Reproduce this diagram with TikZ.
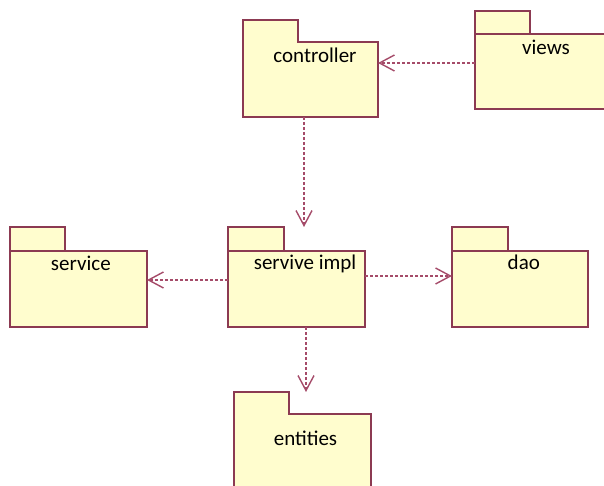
\documentclass[tikz,border=0pt]{standalone}
\usepackage{fontspec}
\setmainfont{Carlito}
\usetikzlibrary{positioning,arrows.meta}
\definecolor{pkgfill}{RGB}{255,253,206}
\definecolor{pkgline}{RGB}{140,58,82}
\definecolor{depline}{RGB}{165,75,105}

\begin{document}
\begin{tikzpicture}[x=1pt, y=1pt,
		pkg/.style={draw=pkgline, fill=pkgfill, line width=1.5pt, inner sep=0pt, outer sep=0pt},
		pkgopen/.style={inner sep=0pt, outer sep=0pt},
		pkgname/.style={anchor=base, inner sep=0pt, font=\fontsize{21}{25}\selectfont},
		dep/.style={draw=depline, line width=1.4pt, dash pattern=on 3pt off 2pt, -{Straight Barb[length=15pt, width=16pt]}}]
			\clip (0, 0) rectangle (604, 486);

			% packages with tab and body as one outline
			\node[pkgopen, minimum width=135pt, minimum height=75pt] (controller) at (310.5, 406.5) {};
			\node[pkgopen, minimum width=55pt, minimum height=22pt, anchor=south west] (ctrltab) at (controller.north west) {};
			\draw[pkg] (ctrltab.south west) -- (ctrltab.north west) -- (ctrltab.north east) -- (ctrltab.south east) -- (controller.north east) -- (controller.south east) -- (controller.south west) -- cycle;

			\node[pkgopen, minimum width=137pt, minimum height=81pt] (entities) at (302.5, 31.5) {};
			\node[pkgopen, minimum width=55pt, minimum height=22pt, anchor=south west] (entitiestab) at (entities.north west) {};
			\draw[pkg] (entitiestab.south west) -- (entitiestab.north west) -- (entitiestab.north east) -- (entitiestab.south east) -- (entities.north east) -- (entities.south east) -- (entities.south west) -- cycle;

			% packages with a separate tab
			\node[pkg, minimum width=55pt, minimum height=23pt, anchor=south west] (viewstab) at (475, 452) {};
			\node[pkg, minimum width=142pt, minimum height=75pt, anchor=north west] (views) at (viewstab.south west) {};

			\node[pkg, minimum width=55pt, minimum height=24pt, anchor=south west] (servicetab) at (10, 235) {};
			\node[pkg, minimum width=137pt, minimum height=76pt, anchor=north west] (service) at (servicetab.south west) {};

			\node[pkg, minimum width=56pt, minimum height=24pt, anchor=south west] (impltab) at (228, 235) {};
			\node[pkg, minimum width=137pt, minimum height=76pt, anchor=north west] (impl) at (impltab.south west) {};

			\node[pkg, minimum width=56pt, minimum height=24pt, anchor=south west] (daotab) at (452, 235) {};
			\node[pkg, minimum width=136pt, minimum height=76pt, anchor=north west] (dao) at (daotab.south west) {};

			\node[pkgname] (ctrlname) at ([shift={(4.5, -20.3)}]controller.north) {controller};
			\node[pkgname] (viewsname) at ([shift={(0, -20.3)}]views.north) {views};
			\node[pkgname] (servicename) at ([shift={(2.3, -19.7)}]service.north) {service};
			\node[pkgname] (implname) at ([shift={(8.5, -19)}]impl.north) {servive impl};
			\node[pkgname] (daoname) at ([shift={(3.8, -18.3)}]dao.north) {dao};
			\node[pkgname] (entitiesname) at ([shift={(3, -31.7)}]entities.north) {entities};

			% dependencies
			\coordinate (vw) at ([yshift=8.5pt]views.west);
			\draw[dep] (vw) -- (vw -| controller.east);
			\coordinate (cs) at ([xshift=-6.5pt]controller.south);
			\draw[dep] (cs) -- (cs |- impltab.north);
			\coordinate (iw) at ([yshift=9pt]impl.west);
			\draw[dep] (iw) -- (iw -| service.east);
			\coordinate (ie) at ([yshift=13pt]impl.east);
			\draw[dep] (ie) -- (ie -| dao.west);
			\coordinate (is) at ([xshift=9.5pt]impl.south);
			\draw[dep] (is) -- (is |- entitiestab.north);
		\end{tikzpicture}
\end{document}
